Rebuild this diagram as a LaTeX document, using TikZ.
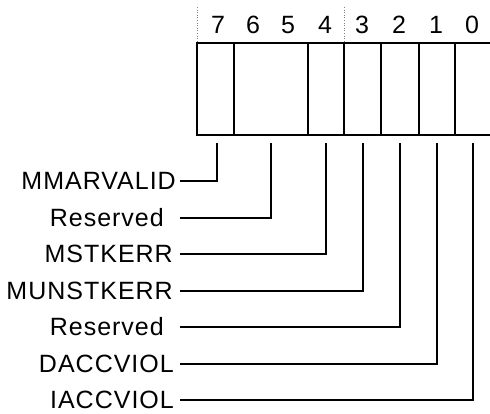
\documentclass[tikz,border=0pt]{standalone}
\usepackage{fontspec}
\setmainfont{Liberation Sans}[LetterSpace=4]
\begin{document}
\begin{tikzpicture}[x=1pt, y=-1pt,
  font=\fontsize{25}{30}\selectfont,
  field/.style={line width=2pt},
  leader/.style={line width=1.2pt, rounded corners=0pt},
  bitnum/.style={inner sep=0pt},
  fname/.style={anchor=east, inner sep=0pt}]
  \useasboundingbox (0,0) rectangle (490,413);
  % register box
  \draw[field] (197,43) rectangle (493,135);
  \foreach \x in {234,308,344,381,419,455}
    \draw[field] (\x,43) -- (\x,135);
  \draw[gray, dotted, line width=0.6pt] (197,7) -- (197,43);
  \draw[gray, dotted, line width=0.6pt] (344,7) -- (344,43);
  % bit numbers
  \foreach \b/\x in {7/218,6/253,5/288,4/325,3/362,2/399,1/436,0/472}
    \node[bitnum] (b\b) at (\x,25) {\b};
  % field names and their leaders
  \foreach \n/\t/\e/\y/\x in {mmar/MMARVALID/176/181/217,
                            resa/Reserved/164/218/271,
                            mstk/MSTKERR/173/254/326,
                            munstk/MUNSTKERR/173/291/363,
                            resb/Reserved/164/327/400,
                            dacc/DACCVIOL/174/364/437,
                            iacc/IACCVIOL/174/400/473}{
    \node[fname] (\n) at (\e,\y) {\t};
    \coordinate (\n-top) at (\x,143);
    \coordinate (\n-start) at (180,\y);
    \draw[leader] (\n-start) -| (\n-top);
  }
\end{tikzpicture}
\end{document}
